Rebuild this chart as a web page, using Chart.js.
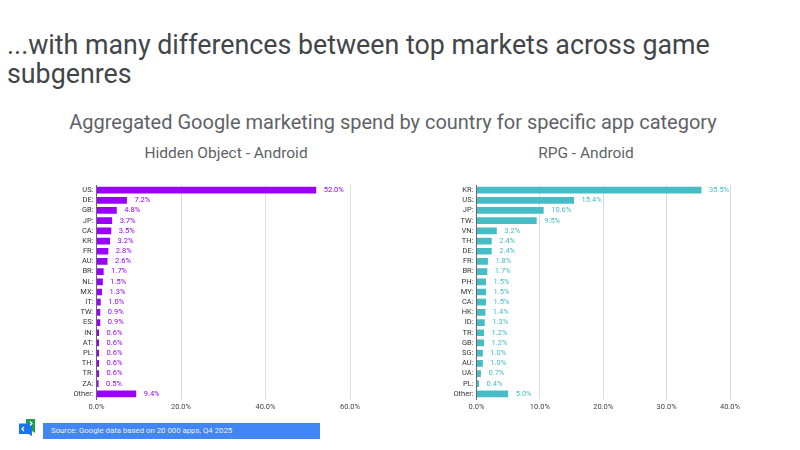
<!DOCTYPE html>
<html>
<head>
<meta charset="utf-8">
<script src="https://cdn.jsdelivr.net/npm/chart.js@4"></script>
<style>
  body { margin: 0; background: #fff; width: 800px; height: 450px; overflow: hidden; position: relative; font-family: Roboto, sans-serif; }
  .text { position: absolute; white-space: nowrap; color: #434343; }
  #title { left: 7px; top: 31px; font-size: 26.8px; line-height: 29px; color: #434649; white-space: normal; width: 760px; }
  #subtitle { left: 0; width: 786px; text-align: center; top: 110px; font-size: 20px; line-height: 24px; color: #5f6368; }
  .head { top: 143.5px; font-size: 15.5px; line-height: 18px; text-align: center; color: #5f6368; }
  #source { left: 43px; top: 423px; width: 277px; height: 16px; background: #4285f4; color: #e8f0fe; font-size: 7.8px; line-height: 16px; text-indent: 8px; }
  .box { position: absolute; top: 175px; width: 330px; height: 240px; }
  #logo { position: absolute; left: 18px; top: 418px; }
</style>
</head>
<body>
<div class="text" id="title">...with many differences between top markets across game subgenres</div>
<div class="text" id="subtitle">Aggregated Google marketing spend by country for specific app category</div>
<div class="text head" style="left:96px;width:260px">Hidden Object - Android</div>
<div class="text head" style="left:462px;width:248px">RPG - Android</div>

<div class="box" style="left:40px"><canvas id="hiddenChart"></canvas></div>
<div class="box" style="left:420px"><canvas id="rpgChart"></canvas></div>

<svg id="logo" width="20" height="20" viewBox="0 0 20 20">
  <path d="M8 1h9v14l-3-2H8z" fill="#1e9e4a"/>
  <path d="M1 5.500h13v12.500l-3.500-2H1z" fill="#1a73e8"/>
  <path d="M6 9l-2 2 2 2M12 3.500l2 2-2 2" stroke="#fff" stroke-width="1.2" fill="none"/>
</svg>
<div class="text" id="source">Source: Google data based on 20 000 apps, Q4 2025</div>

<script>
const hiddenLabels = ['US:', 'DE:', 'GB:', 'JP:', 'CA:', 'KR:', 'FR:', 'AU:', 'BR:', 'NL:', 'MX:', 'IT:', 'TW:', 'ES:', 'IN:', 'AT:', 'PL:', 'TH:', 'TR:', 'ZA:', 'Other:'];
const hiddenValues = [52.0, 7.2, 4.8, 3.7, 3.5, 3.2, 2.8, 2.6, 1.7, 1.5, 1.3, 1.0, 0.9, 0.9, 0.6, 0.6, 0.6, 0.6, 0.6, 0.5, 9.4];

const rpgLabels = ['KR:', 'US:', 'JP:', 'TW:', 'VN:', 'TH:', 'DE:', 'FR:', 'BR:', 'PH:', 'MY:', 'CA:', 'HK:', 'ID:', 'TR:', 'GB:', 'SG:', 'AU:', 'UA:', 'PL:', 'Other:'];
const rpgValues = [35.5, 15.4, 10.6, 9.5, 3.2, 2.4, 2.4, 1.8, 1.7, 1.5, 1.5, 1.5, 1.4, 1.3, 1.2, 1.2, 1.0, 1.0, 0.7, 0.4, 5.0];

// Percent label just past the end of each bar
const barValueLabels = {
  id: 'barValueLabels',
  afterDatasetsDraw(chart) {
    const { ctx } = chart;
    const dataset = chart.data.datasets[0];
    ctx.save();
    ctx.font = '7.5px Roboto, sans-serif';
    ctx.fillStyle = dataset.backgroundColor;
    ctx.textBaseline = 'middle';
    chart.getDatasetMeta(0).data.forEach((bar, i) => {
      ctx.fillText(dataset.data[i].toFixed(1) + '%', bar.x + 7.5, bar.y);
    });
    ctx.restore();
  },
};

const makeChart = (canvasId, labels, values, color, maxValue, stepSize) => {
  return new Chart(document.getElementById(canvasId), {
    type: 'bar',
    data: {
      labels: labels,
      datasets: [
        {
          data: values,
          backgroundColor: color,
          borderWidth: 0,
          barPercentage: 0.66,
          categoryPercentage: 1,
        },
      ],
    },
    plugins: [barValueLabels],
    options: {
      indexAxis: 'y',
      responsive: false,
      animation: false,
      layout: { padding: { top: 10, right: 20, left: 0, bottom: 0 } },
      plugins: { legend: { display: false }, tooltip: { enabled: false } },
      scales: {
        x: {
          min: 0,
          max: maxValue,
          afterFit: (axis) => { axis.height = 16; },
          ticks: {
            stepSize: stepSize,
            maxRotation: 0,
            padding: 4,
            color: '#444',
            font: { family: 'Roboto, sans-serif', size: 7.5 },
            callback: (value) => value.toFixed(1) + '%',
          },
          grid: { color: '#dcdcdc', drawTicks: false },
          border: { display: false },
        },
        y: {
          afterFit: (axis) => { axis.width = 56.5; },
          ticks: {
            autoSkip: false,
            padding: 3,
            color: '#333',
            font: { family: 'Roboto, sans-serif', size: 7.5 },
          },
          grid: { display: false, drawTicks: false },
          border: { color: '#666', width: 1 },
        },
      },
    },
  });
};

for (const id of ['hiddenChart', 'rpgChart']) {
  const canvas = document.getElementById(id);
  canvas.width = 330;
  canvas.height = 240;
}

makeChart('hiddenChart', hiddenLabels, hiddenValues, '#9900ff', 60, 20);
makeChart('rpgChart', rpgLabels, rpgValues, '#46bdc6', 40, 10);
</script>
</body>
</html>
